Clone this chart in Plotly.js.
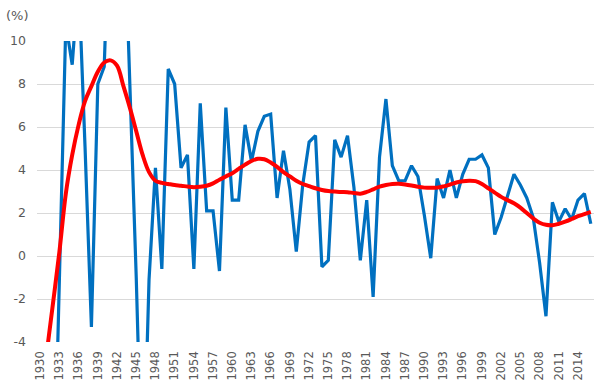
<!DOCTYPE html>
<html>
<head>
<meta charset="utf-8">
<script src="https://cdn.plot.ly/plotly-3.0.1.min.js"></script>
<style>html,body{margin:0;padding:0;background:#fff}#chart{width:600px;height:387px}</style>
</head>
<body>
<div id="chart"></div>
<script>
// Years 1930..2016
var years = [];
for (var y = 1930; y <= 2016; y++) years.push(y);

// Annual growth rate (%) - blue line
var growth = [
  -8.5, -6.4, -12.9, -1.2, 10.8, 8.9, 12.9, 5.1, -3.3, 8.0,
  8.8, 17.7, 18.9, 17.0, 8.0, -1.0, -11.6, -1.1, 4.1, -0.6,
  8.7, 8.0, 4.1, 4.7, -0.6, 7.1, 2.1, 2.1, -0.7, 6.9,
  2.6, 2.6, 6.1, 4.4, 5.8, 6.5, 6.6, 2.7, 4.9, 3.1,
  0.2, 3.3, 5.3, 5.6, -0.5, -0.2, 5.4, 4.6, 5.6, 3.2,
  -0.2, 2.6, -1.9, 4.6, 7.3, 4.2, 3.5, 3.5, 4.2, 3.7,
  1.9, -0.1, 3.6, 2.7, 4.0, 2.7, 3.8, 4.5, 4.5, 4.7,
  4.1, 1.0, 1.8, 2.8, 3.8, 3.3, 2.7, 1.8, -0.3, -2.8,
  2.5, 1.6, 2.2, 1.7, 2.6, 2.9, 1.5
];

// Smoothed trend (%) - red line
var trend = [
  -7.5, -4.6, -2.2, 0.2, 2.9, 4.7, 6.1, 7.2, 7.9, 8.57,
  9.0, 9.1, 8.85, 7.9, 6.9, 5.8, 4.7, 3.9, 3.5, 3.4,
  3.35, 3.3, 3.27, 3.23, 3.2, 3.22, 3.27, 3.38, 3.55, 3.7,
  3.85, 4.05, 4.25, 4.42, 4.52, 4.5, 4.35, 4.15, 3.9, 3.7,
  3.5, 3.35, 3.25, 3.15, 3.07, 3.02, 3.0, 2.98, 2.97, 2.93,
  2.9, 2.98, 3.1, 3.23, 3.3, 3.35, 3.36, 3.33, 3.28, 3.22,
  3.18, 3.17, 3.18, 3.24, 3.32, 3.42, 3.48, 3.5, 3.48, 3.35,
  3.15, 2.95, 2.75, 2.6, 2.45, 2.25, 2.0, 1.75, 1.55, 1.45,
  1.43, 1.5, 1.6, 1.72, 1.85, 1.95, 2.05
];

var xTicks = [];
for (var t = 1930; t <= 2016; t += 3) xTicks.push(t);
var yTicks = [-4, -2, 0, 2, 4, 6, 8, 10];

var traces = [
  {x: years, y: growth, type: 'scatter', mode: 'lines',
   line: {color: '#0070C0', width: 3.2}, hoverinfo: 'skip', cliponaxis: true},
  {x: years, y: trend, type: 'scatter', mode: 'lines',
   line: {color: '#FF0000', width: 4, shape: 'spline', smoothing: 1}, hoverinfo: 'skip', cliponaxis: true}
];

var layout = {
  width: 600, height: 387,
  margin: {l: 37, r: 6, t: 41, b: 45},
  paper_bgcolor: '#ffffff', plot_bgcolor: '#ffffff',
  showlegend: false,
  font: {family: 'DejaVu Sans, sans-serif', color: '#595959', size: 12},
  xaxis: {
    type: 'linear', range: [1929.5, 2016.5],
    tickvals: xTicks, ticktext: xTicks.map(String),
    tickangle: -90, showgrid: false, zeroline: false,
    showline: false, ticks: '', ticklabelstandoff: 6,
    tickfont: {size: 11.5, color: '#595959'}
  },
  yaxis: {
    range: [-4, 10], tickvals: yTicks, ticktext: yTicks.map(String),
    showgrid: true, gridcolor: '#D9D9D9', gridwidth: 1,
    zeroline: false, showline: false, ticks: '', ticklabelstandoff: 10,
    tickfont: {size: 12.5, color: '#595959'}
  },
  annotations: [{
    text: '(%)', xref: 'paper', yref: 'paper', x: -33/557, y: 1 + 26/302,
    xanchor: 'left', yanchor: 'middle', showarrow: false,
    font: {size: 13, color: '#595959'}
  }]
};

Plotly.newPlot('chart', traces, layout, {staticPlot: true, displayModeBar: false});
</script>
</body>
</html>
